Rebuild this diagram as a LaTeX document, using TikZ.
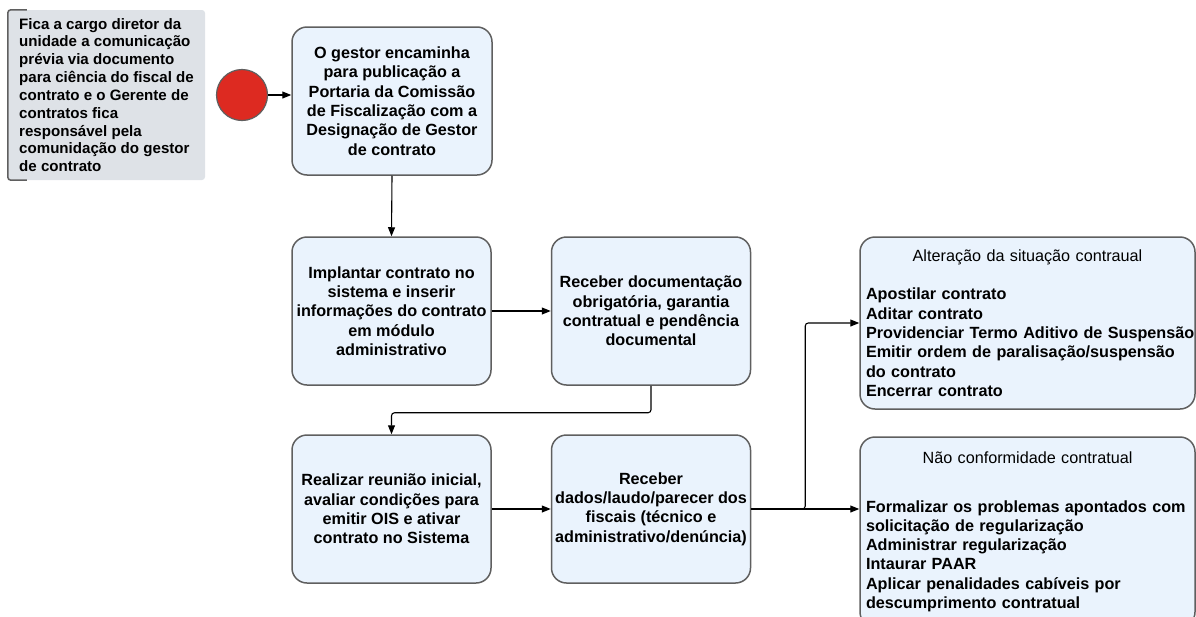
\documentclass[tikz,border=0pt]{standalone}
\usepackage{fontspec}
\setmainfont{Liberation Sans}
\usetikzlibrary{arrows.meta,positioning}
\definecolor{stepfill}{HTML}{EAF3FD}
\definecolor{stepline}{HTML}{5F5F5F}
\definecolor{notefill}{HTML}{DEE2E7}
\definecolor{startred}{HTML}{DD2A21}
\begin{document}
\begin{tikzpicture}[x=1pt,y=-1pt,
stepbox/.style={draw=stepline,fill=stepfill,line width=1.5pt,rounded corners=15pt,
  minimum width=199pt,minimum height=148pt,inner sep=1pt,align=center,
  font=\fontsize{16.2}{19.3}\selectfont\bfseries},
listbox/.style={stepbox,minimum width=335pt,text width=323pt,inner xsep=6pt,align=left},
link/.style={line width=1.1pt,-{Triangle[length=9pt,width=7pt]}}]
\useasboundingbox (0,0) rectangle (1196,616);
\clip (0,0) rectangle (1196,616);
% note and start
\node[fill=notefill,rounded corners=3pt,minimum width=197pt,minimum height=170pt,inner sep=1pt,
  align=left,font=\fontsize{15.1}{17.8}\selectfont\bfseries] (note) at (106.5,95)
  {Fica a cargo diretor da\\unidade a comunicação\\prévia via documento\\para ciência do fiscal de\\
  contrato e o Gerente de\\contratos fica\\responsável pela\\comunidação do gestor\\de contrato};
\draw[stepline,line width=1.5pt,rounded corners=3pt] ([xshift=19pt]note.north west) -- (note.north west)
  -- (note.south west) -- ([xshift=19pt]note.south west);
\node[circle,draw=stepline,fill=startred,line width=1.2pt,minimum size=51pt,inner sep=0pt] (start) at (242,95) {};
% steps
\node[stepbox,minimum width=200pt] (gestor) at (392,101)
  {O gestor encaminha\\para publicação a\\Portaria da Comissão\\de Fiscalização com a\\Designação de Gestor\\de contrato};
\node[stepbox] (implantar) at (391.5,311)
  {Implantar contrato no\\sistema e inserir\\informações do contrato\\em módulo\\administrativo};
\node[stepbox] (docs) at (651,311)
  {Receber documentação\\obrigatória, garantia\\contratual e pendência\\documental};
\node[stepbox] (reuniao) at (391.5,509)
  {Realizar reunião inicial,\\avaliar condições para\\emitir OIS e ativar\\contrato no Sistema};
\node[stepbox] (dados) at (651,509)
  {Receber\\dados/laudo/parecer dos\\fiscais (técnico e\\administrativo/denúncia)};
\node[listbox,minimum height=172pt] (alteracao) at (1027.5,323)
  {{\centering\mdseries Alteração da situação contraual\par}\vspace{19.3pt}%
  Apostilar contrato\\Aditar contrato\\\mbox{Providenciar Termo Aditivo de Suspensão}\\
  \mbox{Emitir ordem de paralisação/suspensão}\\do contrato\\Encerrar contrato};
\node[listbox,minimum height=190pt] (naoconf) at (1027.5,532)
  {{\centering\mdseries Não conformidade contratual\par}\vspace{29pt}%
  \mbox{Formalizar os problemas apontados com}\\solicitação de regularização\\Administrar regularização\\
  Intaurar PAAR\\Aplicar penalidades cabíveis por\\descumprimento contratual};
% connectors
\draw[link] (start.east) -- (start.east -| gestor.west);
\draw[link] (gestor.south) -- (implantar.north);
\draw[link] (implantar.east) -- (docs.west);
\draw[link,rounded corners=3pt] (docs.south) -- ++(0,27) -| (reuniao.north);
\draw[link] (reuniao.east) -- (dados.west);
\draw[link,rounded corners=3pt] (dados.east) -- ++(54,0) |- (alteracao.west);
\draw[link] (dados.east) -- (dados.east -| naoconf.west);
\end{tikzpicture}
\end{document}
